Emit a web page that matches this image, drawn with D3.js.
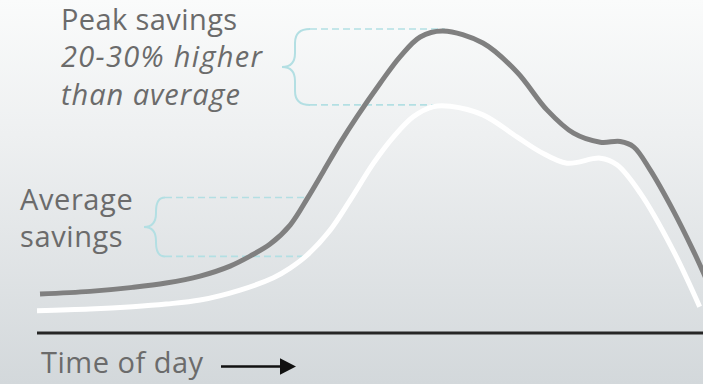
<!DOCTYPE html>
<html>
<head>
<meta charset="utf-8">
<script src="https://cdn.jsdelivr.net/npm/d3@7"></script>
<style>
  html, body { margin: 0; padding: 0; background: #fff; }
  svg { display: block; }
  text { font-family: "Open Sans", "Noto Sans", sans-serif; fill: #6b6b6b; }
</style>
</head>
<body>
<script>
// Time of day (0–100 span of the day) and relative savings level
const peakTime  = [0.6, 8.1, 14.5, 19.5, 24.6, 29.1, 32.1, 35.1, 38.1, 40.8, 43.1, 45.6, 48.1, 51.6, 54.6, 57.6, 61.0, 67.0, 72.1, 76.6, 80.6, 84.6, 87.6, 89.6, 92.1, 95.5, 98.5, 100, 102.2];
const peakLevel = [11.7, 12.5, 13.7, 15.0, 17.1, 20.1, 23.1, 26.7, 32.4, 40.8, 48.6, 57.1, 64.9, 75.0, 83.0, 88.9, 90.7, 87.1, 78.4, 67.0, 60.0, 57.3, 57.5, 55.9, 48.9, 36.9, 24.9, 18.4, 8.4];
const avgTime   = [0.15, 8.1, 14.5, 19.5, 24.6, 30.6, 35.6, 38.1, 40.6, 44.1, 47.1, 50.6, 53.6, 56.6, 59.6, 62.1, 67.0, 72.1, 75.6, 79.6, 84.6, 87.1, 90.6, 95.5, 99.5];
const avgLevel  = [6.7, 7.2, 7.9, 8.7, 9.9, 12.9, 16.6, 19.5, 23.3, 30.9, 39.9, 51.0, 58.9, 65.0, 68.0, 68.1, 65.5, 58.9, 54.4, 51.0, 52.5, 50.5, 42.0, 24.9, 7.9];

// Annotation brackets: where each dashed guide ends and the two levels it spans
const peakBracket = { time: 61.3, top: 91.3, bottom: 68.5 };
const avgBracket  = { time: 40.6, top: 40.7, bottom: 23.0 };

const peakLabel = ["Peak savings", "20-30% higher", "than average"];
const avgLabel  = ["Average", "savings"];
const axisLabel = "Time of day";

const W = 703, H = 384;
const x = d3.scaleLinear().domain([0, 100]).range([36, 703]);
const y = d3.scaleLinear().domain([0, 100]).range([333, 0]);

const svg = d3.select("body").append("svg").attr("width", W).attr("height", H);

const defs = svg.append("defs");
const bg = defs.append("linearGradient").attr("id", "bg")
  .attr("x1", 0).attr("y1", 0).attr("x2", 0).attr("y2", 1);
bg.append("stop").attr("offset", "0%").attr("stop-color", "#fafbfb");
bg.append("stop").attr("offset", "35%").attr("stop-color", "#eef0f1");
bg.append("stop").attr("offset", "100%").attr("stop-color", "#d3d8db");
svg.append("rect").attr("width", W).attr("height", H).attr("fill", "url(#bg)");

const guideColor = "#b3dfe3";

// Dashed guides
function guides(b, x0) {
  [b.top, b.bottom].forEach(v => {
    svg.append("line")
      .attr("x1", x0).attr("x2", x(b.time))
      .attr("y1", y(v)).attr("y2", y(v))
      .attr("stroke", guideColor).attr("stroke-width", 1.6)
      .attr("stroke-dasharray", "7,4");
  });
}
// Curly brace from top guide to bottom guide
function brace(b, xEnd, xArm, xTip) {
  const t = y(b.top), bt = y(b.bottom), m = (t + bt) / 2;
  const r = Math.min(14, (bt - t) / 4);
  const p = d3.path();
  p.moveTo(xEnd, t);
  p.quadraticCurveTo(xArm, t, xArm, t + r);
  p.lineTo(xArm, m - r);
  p.quadraticCurveTo(xArm, m, xTip, m);
  p.quadraticCurveTo(xArm, m, xArm, m + r);
  p.lineTo(xArm, bt - r);
  p.quadraticCurveTo(xArm, bt, xEnd, bt);
  svg.append("path").attr("d", p.toString())
    .attr("fill", "none").attr("stroke", guideColor).attr("stroke-width", 2);
}
guides(peakBracket, 310);
brace(peakBracket, 310, 295, 282);
guides(avgBracket, 165);
brace(avgBracket, 165, 156, 144);

// Savings curves
const line = d3.line().x(d => x(d[0])).y(d => y(d[1])).curve(d3.curveCatmullRom.alpha(0.5));
svg.append("path")
  .datum(avgTime.map((t, i) => [t, avgLevel[i]]))
  .attr("d", line).attr("fill", "none")
  .attr("stroke", "#ffffff").attr("stroke-width", 5);
svg.append("path")
  .datum(peakTime.map((t, i) => [t, peakLevel[i]]))
  .attr("d", line).attr("fill", "none")
  .attr("stroke", "#808080").attr("stroke-width", 5);

// Baseline axis
svg.append("line")
  .attr("x1", 37).attr("x2", W).attr("y1", y(0)).attr("y2", y(0))
  .attr("stroke", "#262626").attr("stroke-width", 3);

// Labels
const fs = 29;
const italicWidths = [0, 201, 179];
peakLabel.forEach((s, i) => {
  const t = svg.append("text").attr("x", 61).attr("y", 30 + i * 37.3)
    .attr("font-size", fs)
    .attr("letter-spacing", 0.4)
    .text(s);
  if (i > 0) {
    t.attr("font-style", "italic")
     .attr("letter-spacing", null)
     .attr("textLength", italicWidths[i])
     .attr("lengthAdjust", "spacing");
  }
});
avgLabel.forEach((s, i) => {
  svg.append("text").attr("x", 20).attr("y", 210 + i * 37)
    .attr("font-size", fs).attr("letter-spacing", 0.6).text(s);
});
svg.append("text").attr("x", 41).attr("y", 373).attr("font-size", fs)
  .attr("letter-spacing", 0.5).text(axisLabel);

// Direction arrow
svg.append("line").attr("x1", 221).attr("x2", 283).attr("y1", 366.5).attr("y2", 366.5)
  .attr("stroke", "#111").attr("stroke-width", 2.5);
svg.append("path").attr("d", "M280,358.3L296,366.5L280,374.7Z").attr("fill", "#111");
</script>
</body>
</html>
